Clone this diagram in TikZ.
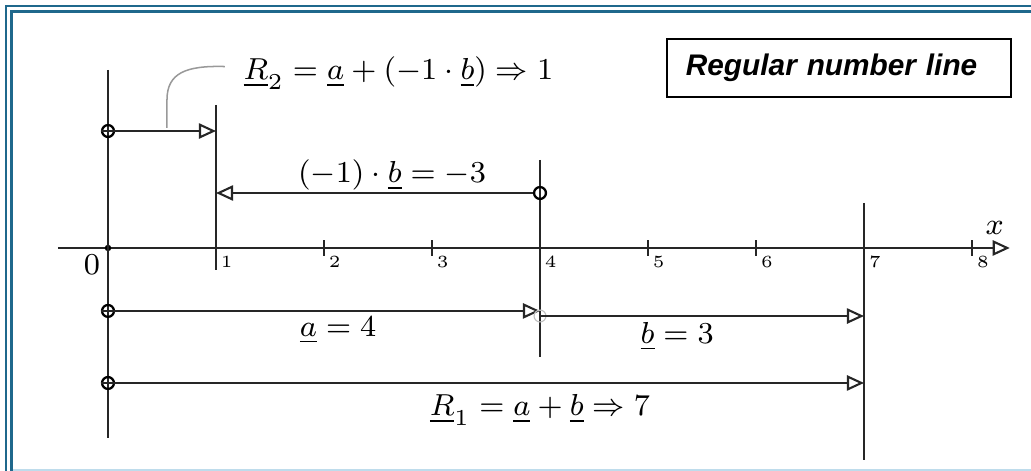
\documentclass[tikz,border=0pt]{standalone}
\usepackage{fontspec}
\newfontfamily\boxfont{Liberation Sans}
\usetikzlibrary{arrows.meta}
\definecolor{frameblue}{RGB}{31,104,140}
\definecolor{framelight}{RGB}{190,220,236}
\tikzset{
	hand/.style={line width=0.55pt, black!85},
	thinline/.style={line width=0.45pt, black!85},
	vec/.style={hand, -{Triangle[open, length=4.5pt, width=4pt]}},
	startpt/.style={circle, draw, line width=0.6pt, inner sep=0pt, minimum size=0.11cm},
	lbl/.style={font=\fontsize{8}{9}\selectfont},
	ticklbl/.style={font=\fontsize{4.5}{5}\selectfont},
	leader/.style={gray!80, line width=0.4pt},
}
\begin{document}
\begin{tikzpicture}[x=1cm, y=1cm]
	\def\yRtwo{1.083}
	\def\yNegb{0.509}
	\def\yA{-0.583}
	\def\yB{-0.63}
	\def\yRone{-1.25}
	\useasboundingbox (-1,-2.065) rectangle (8.546,2.296);
	
	% Marco
	\draw[frameblue, line width=0.66pt] (-0.944,-2.065) -- (-0.944,2.24) -- (8.546,2.24);
	\draw[frameblue, line width=0.7pt] (-0.894,-2.065) -- (-0.894,2.19) -- (8.546,2.19);
	\draw[framelight, line width=0.8pt] (-0.88,-2.056) -- (8.546,-2.056);
	
	% Recta numerica
	\draw[hand, -{Triangle[open, length=4.5pt, width=4pt]}] (-0.463,0) -- (8.35,0);
	\foreach \k in {2,3,5,6,8}{
		\draw[hand] (\k,-0.07) -- (\k,0.07);
	}
	\foreach \k in {1,...,8}{
		\node[ticklbl] (t\k) at (\k+0.1,-0.13) {\k};
	}
	\fill (0,0) circle (0.03);
	\node[lbl] (orig) at (-0.148,-0.157) {$0$};
	\node[lbl] (xlbl) at (8.21,0.185) {$x$};
	
	% Verticales
	\draw[thinline] (0,1.648) -- (0,-1.76);
	\draw[thinline] (1,1.324) -- (1,-0.204);
	\draw[thinline] (4,0.815) -- (4,-1.01);
	\draw[thinline] (7,0.417) -- (7,-1.963);
	
	% Vectores
	\node[startpt] (sRtwo) at (0,\yRtwo) {};
	\coordinate (eRtwo) at (1,\yRtwo);
	\draw[vec] (sRtwo.west) -- (eRtwo);
	
	\node[startpt] (sNegb) at (4,\yNegb) {};
	\coordinate (eNegb) at (1,\yNegb);
	\draw[vec] (sNegb) -- (eNegb);
	
	\node[startpt] (sA) at (0,\yA) {};
	\coordinate (eA) at (4,\yA);
	\draw[vec] (sA.west) -- (eA);
	
	\node[startpt, draw=gray!50, line width=0.3pt] (sB) at (4,\yB) {};
	\coordinate (eB) at (7,\yB);
	\draw[vec] (sB.center) -- (eB);
	
	\node[startpt] (sRone) at (0,\yRone) {};
	\coordinate (eRone) at (7,\yRone);
	\draw[vec] (sRone.west) -- (eRone);
	
	% Etiquetas
	\node[lbl] (rtwo) at (2.69,1.62) {$\underline{R}_2 = \underline{a} + (-1\cdot\underline{b}) \Rightarrow 1$};
	\node[lbl] (negb) at (2.63,0.676) {$(-1)\cdot\underline{b} = -3$};
	\node[lbl] (alab) at (2.13,-0.76) {$\underline{a} = 4$};
	\node[lbl] (blab) at (5.27,-0.82) {$\underline{b} = 3$};
	\node[lbl] (rone) at (4.0,-1.5) {$\underline{R}_1 = \underline{a} + \underline{b} \Rightarrow 7$};
	
	% Linea guia hacia R2
	\coordinate (lead) at (0.546,\yRtwo+0.03);
	\draw[leader] (lead) -- (0.546,1.37)
	.. controls (0.546,1.62) and (0.72,1.69) .. ([shift={(-0.05,0.06)}]rtwo.west);
	
	% Titulo
	\node[draw, line width=0.45pt, anchor=west, text width=2.833cm, inner xsep=0.176cm,
	minimum height=0.537cm, align=left,
	font=\boxfont\bfseries\itshape\fontsize{7.85}{9}\selectfont] (titulo) at (5.167,1.667) {Regular number line};
\end{tikzpicture}
\end{document}
